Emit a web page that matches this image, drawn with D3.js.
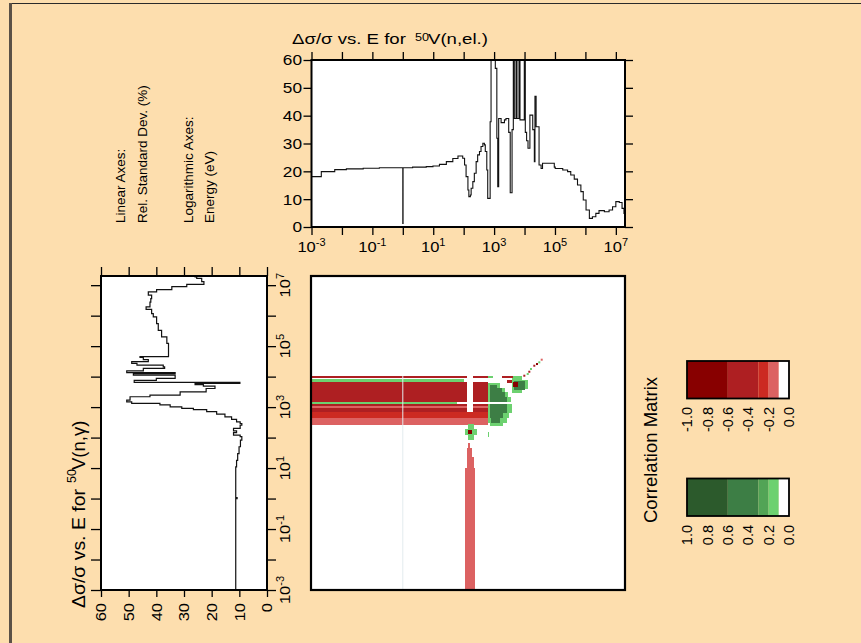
<!DOCTYPE html>
<html>
<head>
<meta charset="utf-8">
<script src="https://cdn.jsdelivr.net/npm/d3@7"></script>
<style>
  html, body { margin: 0; padding: 0; background: #fddeae; }
  svg { display: block; font-family: "Liberation Sans", Arial, Helvetica, sans-serif; }
</style>
</head>
<body>
<svg id="chart" width="861" height="643"></svg>
<script>
// ---- data -------------------------------------------------------------
// relative standard deviation (%) of the elastic cross section; each value holds from its energy (eV) to the next
const elasticUnc = [
  [1e-3,18.1],[2.1e-3,19.9],[5.8e-3,20.6],[0.014,20.9],[0.05,21.1],[0.17,21.3],
  [1.0,1.3],[1.02,21.3],[2.1,21.5],[5.9,21.7],[9.8,21.9],[16,22.5],[27,23.5],
  [44,24.6],[65,25.5],[93,24.7],[107,22.3],[120,18.1],[138,13.3],[148,10.9],
  [166,11.5],[176,13.9],[200,16.3],[224,19.3],[257,23.5],[288,25.9],[331,27.1],
  [372,28.9],[427,30.1],[479,29.5],[513,27.1],[575,20.5],[617,10.3],[741,37.8],
  [794,65],[1096,57],[1230,31.9],[1318,14.5],[1413,39],[1698,37.5],[2188,38.5],
  [2455,39],[3020,34],[3388,12.3],[3890,35],[4280,65],[4610,39],[5250,65],
  [5650,39],[6580,65],[7090,38.5],[9820,65],[1.06e4,34],
  [1.17e4,31],[1.3e4,28.3],[1.5e4,40.2],[1.86e4,35],[2.1e4,23.5],[2.2e4,47],
  [2.4e4,36],[3.0e4,22.3],[3.5e4,21],[3.9e4,22.9],[9.5e4,21.5],[1.02e5,21],
  [1.8e5,20.5],[2.6e5,19.9],[3.3e5,18.7],[4.3e5,17.2],[5.5e5,15.1],[7.1e5,12.7],
  [8.5e5,9.7],[1.05e6,6.1],[1.35e6,3.1],[1.7e6,3.7],[2.2e6,4.9],[2.8e6,5.9],
  [4.2e6,5.5],[6.0e6,6.1],[7.8e6,7.3],[1.0e7,9.1],[1.3e7,8.8],[1.6e7,6.7],
  [1.85e7,4.9],[2e7,4.9]
];

// relative standard deviation (%) of the capture cross section
const captureUnc = [
  [1e-3,11.3],[1.0,10.8],[1.08,11.3],[11,11.0],[18,10.6],[30,10.1],[50,9.6],
  [83,9.1],[107,9.7],[120,12.1],[145,11],[166,12.1],[200,9.7],[257,9.1],[290,9.7],
  [330,11],[398,12.8],[479,15.2],[589,18.2],[708,21.8],[832,26.6],[912,30.8],
  [1023,35],[1175,38.7],[1318,48.9],[1479,50.7],[1698,49.5],[2188,42.3],
  [2455,31.4],[3162,22],[4074,18.8],[4898,23],[5495,26],[6026,9.8],[6457,48],
  [7586,40],[8710,33.2],[1.12e4,48.3],[1.26e4,33.2],[1.35e4,50.7],[1.55e4,44.7],
  [1.86e4,37],[2.1e4,37.5],[2.4e4,47],[2.7e4,48.9],[3.1e4,42.9],[3.6e4,44.7],
  [4.3e4,45.9],[4.5e4,35.6],[7.4e4,35.6],[1.23e5,36.2],[2.0e5,38.1],[3.3e5,39.3],
  [5.5e5,39.9],[9.1e5,41.1],[1.17e6,41.7],[1.6e6,43.7],[1.95e6,42.3],[2.8e6,42],
  [3.6e6,41.7],[4.7e6,42.9],[6.0e6,39.9],[7.2e6,34.4],[8.9e6,29],[1.07e7,22.8],
  [1.3e7,23.6],[1.66e7,25.4],[1.86e7,26],[2e7,26]
];

// correlation blocks: [elastic E lo, elastic E hi, capture E lo, capture E hi, r]
const bandBlocks = [
  [1e-3,124,9.1e3,1.04e4,-0.5],[200,640,9.1e3,1.04e4,-0.5],[1.78e3,4.27e3,9.1e3,1.04e4,-0.5],
  [644,950,9.1e3,1.04e4,0.15],[4.2e3,8.4e3,9.1e3,1.04e4,0.15],
  [1e-3,100,6.9e3,8.1e3,0.15],
  [1e-3,124,1.5e3,6.9e3,-0.5],[200,640,1.5e3,6.9e3,-0.5],
  [1e-3,59,1.3e3,1.5e3,0.15],
  [1e-3,124,1086,1.3e3,-0.5],[200,640,1086,1.3e3,-0.5],
  [1e-3,124,955,1086,-0.15],[200,640,955,1086,-0.15],
  [1e-3,124,706,955,-0.5],[200,640,706,955,-0.5],
  [1e-3,640,430,706,-0.25],
  [1e-3,640,259,430,-0.15]
];
const columnBlocks = [
  [111,235,1e-3,9.8,-0.15],[126,219,9.8,23.6,-0.15],[131,192,23.6,44.5,-0.15],[142,161,44.5,65,-0.15],
  [111,274,122,191,0.15],[139,219,83,279,0.15],[144,188,136,177,-0.7],
  [644,690,107,156,0.15]
];
const lobeBlocks = [
  [644,1563,4140,6040,0.15],[644,2281,3200,4140,0.15],[644,2929,2190,3200,0.15],
  [644,3510,1500,2190,0.15],[644,3785,627,1300,0.15],[644,3159,430,627,0.15],
  [644,2594,294,430,0.15],[733,2006,245,294,0.15],
  [733,1217,4140,5310,0.45],[733,1778,3200,4140,0.45],[733,2281,2190,3200,0.45],
  [733,2594,1500,2190,0.45],[733,2594,627,1300,0.45],[733,2006,430,627,0.45],
  [800,1563,294,430,0.45],
  [2600,4200,6.1e3,7.6e3,-0.5],
  [3880,8000,2.9e3,9.0e3,0.15],[8000,1.31e4,3.8e3,7.5e3,0.15],
  [4510,1.04e4,3.6e3,7.0e3,0.45],[4180,6100,4.7e3,6.8e3,-0.7]
];
// isolated cells running toward higher energies
const diagCells = [
  [9120,9.93e3,-0.5],[1.18e4,1.13e4,0.15],[1.33e4,1.34e4,-0.5],[1.51e4,1.65e4,0.15],
  [1.94e4,2.11e4,-0.5],[2.38e4,2.4e4,-0.7],[2.83e4,2.73e4,0.15],[3.4e4,3.33e4,-0.15]
];

const decades = d3.range(-3, 8).map(p => Math.pow(10, p));
const labeledPowers = [-3, -1, 1, 3, 5, 7];
const pctTicks = [0, 10, 20, 30, 40, 50, 60];

const corrThresholds = [-0.6, -0.3, -0.2, -0.1, 0.1, 0.2, 0.3, 0.6];
const corrColors = ["#880000", "#ae1f22", "#cc2a22", "#dc6262", "#ffffff",
                    "#6dd170", "#52a456", "#3d7e45", "#2c5a2c"];
const negStops = [-1, -0.6, -0.3, -0.2, -0.1, 0];
const posStops = [1, 0.6, 0.3, 0.2, 0.1, 0];
const negLabels = ["-1.0", "-0.8", "-0.6", "-0.4", "-0.2", "0.0"];
const posLabels = ["1.0", "0.8", "0.6", "0.4", "0.2", "0.0"];

// ---- scales -----------------------------------------------------------
const svg = d3.select("#chart");
const FONT = 15;

const xE = d3.scaleLog().domain([1e-3, 2e7]).range([311.5, 625]);   // elastic energy (horizontal)
const yE = d3.scaleLog().domain([1e-3, 2e7]).range([590, 276]);     // capture energy (vertical)
const yPct = d3.scaleLinear().domain([0, 60]).range([227, 60]);      // top panel values
const xPct = d3.scaleLinear().domain([0, 60]).range([267, 101]);     // left panel values
const corrColor = d3.scaleThreshold().domain(corrThresholds).range(corrColors);

// ---- helpers ----------------------------------------------------------
function richText(parent, o) {
  const g = parent.append("g")
    .attr("transform", `translate(${o.x},${o.y}) rotate(${o.rot || 0}) scale(${o.sx || 1},1)`);
  const t = g.append("text")
    .attr("font-size", o.size)
    .attr("text-anchor", o.anchor || "start")
    .attr("dy", o.dy || 0)
    .attr("fill", "#000");
  let shift = 0;
  o.parts.forEach(p => {
    const sp = t.append("tspan").text(p.t);
    if (p.sup) {
      sp.attr("font-size", p.size).attr("dy", -p.sup - shift);
      shift = -p.sup;
    } else if (shift) {
      sp.attr("dy", -shift);
      shift = 0;
    }
  });
  return t;
}
const powLabel = p => [{ t: "10" }, { t: String(p), sup: 6, size: 10 }];

// ---- page frame ---------------------------------------------------------
svg.append("rect").attr("width", 861).attr("height", 643).attr("fill", "#fddeae");
svg.append("line").attr("x1", 9).attr("x2", 861).attr("y1", 3.5).attr("y2", 3.5)
  .attr("stroke", "#2a2a2a").attr("stroke-width", 1.2);
svg.append("rect").attr("x", 9).attr("y", 3).attr("width", 3).attr("height", 640).attr("fill", "#5b5147");

// ---- top panel: elastic ---------------------------------------------------
const elPanel = svg.append("g");
elPanel.append("rect").attr("x", 311.5).attr("y", 60).attr("width", 313.5).attr("height", 167).attr("fill", "#fff");
svg.append("clipPath").attr("id", "clipTop").append("rect")
  .attr("x", 311.5).attr("y", 60).attr("width", 313.5).attr("height", 167);

const tickStyle = g => {
  g.select(".domain").remove();
  g.selectAll("line").attr("stroke", "#000").attr("stroke-width", 1.3);
  g.selectAll("text").remove();
};
elPanel.append("g").attr("transform", "translate(0,227)")
  .call(d3.axisBottom(xE).tickValues(decades).tickSize(8)).call(tickStyle);
elPanel.append("g").attr("transform", "translate(0,60)")
  .call(d3.axisTop(xE).tickValues(decades).tickSize(8)).call(tickStyle);
elPanel.append("g").attr("transform", "translate(311.5,0)")
  .call(d3.axisLeft(yPct).tickValues(pctTicks).tickSize(8)).call(tickStyle);
elPanel.append("g").attr("transform", "translate(625,0)")
  .call(d3.axisRight(yPct).tickValues(pctTicks).tickSize(8)).call(tickStyle);

elPanel.append("path").datum(elasticUnc)
  .attr("clip-path", "url(#clipTop)")
  .attr("fill", "none").attr("stroke", "#111").attr("stroke-width", 1.1)
  .attr("d", d3.line().x(d => xE(d[0])).y(d => yPct(d[1])).curve(d3.curveStepAfter));

elPanel.append("rect").attr("x", 311.5).attr("y", 60).attr("width", 313.5).attr("height", 167)
  .attr("fill", "none").attr("stroke", "#000").attr("stroke-width", 2);

pctTicks.forEach(v => richText(elPanel, { x: 302, y: yPct(v), dy: "0.36em", size: FONT, sx: 1.15, anchor: "end", parts: [{ t: String(v) }] }));
labeledPowers.forEach(p => richText(elPanel, { x: xE(Math.pow(10, p)), y: 251.5, size: FONT, sx: 1.1, anchor: "middle", parts: powLabel(p) }));

richText(svg, { x: 292, y: 43.5, size: 15.5, sx: 1.2, parts: [{ t: "\u0394\u03c3/\u03c3 vs. E for" }] });
richText(svg, { x: 415, y: 40.5, size: 11, sx: 1.15, parts: [{ t: "50" }] });
richText(svg, { x: 428, y: 43.5, size: 15.5, sx: 1.2, parts: [{ t: "V(n,el.)" }] });

// ---- axis notes -----------------------------------------------------------
const notes = [["Linear Axes:", 125], ["Rel. Standard Dev. (%)", 147], ["Logarithmic Axes:", 193], ["Energy (eV)", 214]];
notes.forEach(([s, x]) => richText(svg, { x: x, y: 223, rot: -90, size: 13.5, parts: [{ t: s }] }));

// ---- left panel: capture ------------------------------------------------
const capPanel = svg.append("g");
capPanel.append("rect").attr("x", 101).attr("y", 276).attr("width", 166).attr("height", 314).attr("fill", "#fff");
svg.append("clipPath").attr("id", "clipLeft").append("rect")
  .attr("x", 101).attr("y", 276).attr("width", 166).attr("height", 314);

capPanel.append("g").attr("transform", "translate(101,0)")
  .call(d3.axisLeft(yE).tickValues(decades).tickSize(10)).call(tickStyle);
capPanel.append("g").attr("transform", "translate(267,0)")
  .call(d3.axisRight(yE).tickValues(decades).tickSize(9)).call(tickStyle);
capPanel.append("g").attr("transform", "translate(0,276)")
  .call(d3.axisTop(xPct).tickValues(pctTicks).tickSize(9)).call(tickStyle);
capPanel.append("g").attr("transform", "translate(0,590)")
  .call(d3.axisBottom(xPct).tickValues(pctTicks).tickSize(7)).call(tickStyle);

capPanel.append("path").datum(captureUnc)
  .attr("clip-path", "url(#clipLeft)")
  .attr("fill", "none").attr("stroke", "#111").attr("stroke-width", 1.2)
  .attr("d", d3.line().x(d => xPct(d[1])).y(d => yE(d[0])).curve(d3.curveStepBefore));

capPanel.append("rect").attr("x", 101).attr("y", 276).attr("width", 166).attr("height", 314)
  .attr("fill", "none").attr("stroke", "#000").attr("stroke-width", 2);

pctTicks.forEach(v => richText(capPanel, { x: xPct(v), y: 603, rot: -90, size: FONT, sx: 1.1, anchor: "end", dy: "0.36em", parts: [{ t: String(v) }] }));
labeledPowers.forEach(p => richText(capPanel, { x: 290, y: yE(Math.pow(10, p)), rot: -90, size: FONT, sx: 1.1, anchor: "middle", parts: powLabel(p) }));

richText(svg, { x: 85, y: 608, rot: -90, size: 18.5, sx: 1.05, parts: [{ t: "\u0394\u03c3/\u03c3 vs. E for" }] });
richText(svg, { x: 75.5, y: 483, rot: -90, size: 12.5, parts: [{ t: "50" }] });
richText(svg, { x: 85, y: 470, rot: -90, size: 18.5, parts: [{ t: "V(n,\u03b3)" }] });

// ---- correlation matrix ---------------------------------------------------
const mat = svg.append("g");
mat.append("rect").attr("x", 311).attr("y", 276).attr("width", 314).attr("height", 314).attr("fill", "#fff");
svg.append("clipPath").attr("id", "clipMat").append("rect")
  .attr("x", 311).attr("y", 276).attr("width", 314).attr("height", 314);
const cells = mat.append("g").attr("clip-path", "url(#clipMat)");
const blockRect = sel => sel
  .attr("x", d => xE(d[0]))
  .attr("width", d => xE(d[1]) - xE(d[0]))
  .attr("y", d => yE(d[3]))
  .attr("height", d => yE(d[2]) - yE(d[3]))
  .attr("fill", d => corrColor(d[4]))
  .attr("shape-rendering", "crispEdges");
cells.append("g").selectAll("rect").data(bandBlocks).join("rect").call(blockRect);
cells.append("g").selectAll("rect").data(columnBlocks).join("rect").call(blockRect);
cells.append("g").selectAll("rect").data(lobeBlocks).join("rect").call(blockRect);
// single cells: 2 px wide groups
const cellSpan = Math.pow(10, 2 / 30.4);
cells.append("g").selectAll("rect").data(diagCells).join("rect")
  .attr("x", d => xE(d[0]))
  .attr("width", d => xE(d[0] * cellSpan) - xE(d[0]))
  .attr("y", d => yE(d[1] * cellSpan))
  .attr("height", d => yE(d[1]) - yE(d[1] * cellSpan))
  .attr("fill", d => corrColor(d[2]));
// faint trace of the 1 eV elastic group
cells.append("line").attr("x1", xE(1)).attr("x2", xE(1)).attr("y1", 590).attr("y2", yE(1.04e4))
  .attr("stroke", "#e3ecee").attr("stroke-width", 1);
mat.append("rect").attr("x", 311).attr("y", 276).attr("width", 314).attr("height", 314)
  .attr("fill", "none").attr("stroke", "#000").attr("stroke-width", 2.2);

// ---- colour key -----------------------------------------------------------
function colourKey(stops, labels, y0, yLab) {
  const kx = d3.scaleLinear().domain([stops[0], 0]).range([687, 789]);
  const g = svg.append("g");
  for (let i = 0; i < stops.length - 1; i++) {
    const a = kx(stops[i]), b = kx(stops[i + 1]);
    g.append("rect").attr("x", Math.min(a, b)).attr("y", y0).attr("width", Math.abs(b - a)).attr("height", 37.5)
      .attr("fill", corrColor((stops[i] + stops[i + 1]) / 2));
  }
  g.append("rect").attr("x", 687).attr("y", y0).attr("width", 102).attr("height", 37.5)
    .attr("fill", "none").attr("stroke", "#000").attr("stroke-width", 1.8);
  const tickVals = d3.range(6).map(i => stops[0] * (1 - i / 5));
  tickVals.forEach((v, i) => richText(g, { x: kx(v), y: yLab, rot: -90, size: 14.5, anchor: "end", dy: "0.36em", parts: [{ t: labels[i] }] }));
}
colourKey(negStops, negLabels, 361, 407);
colourKey(posStops, posLabels, 478.5, 525);

richText(svg, { x: 657, y: 450, rot: -90, size: 18.5, anchor: "middle", parts: [{ t: "Correlation Matrix" }] });
</script>
</body>
</html>
